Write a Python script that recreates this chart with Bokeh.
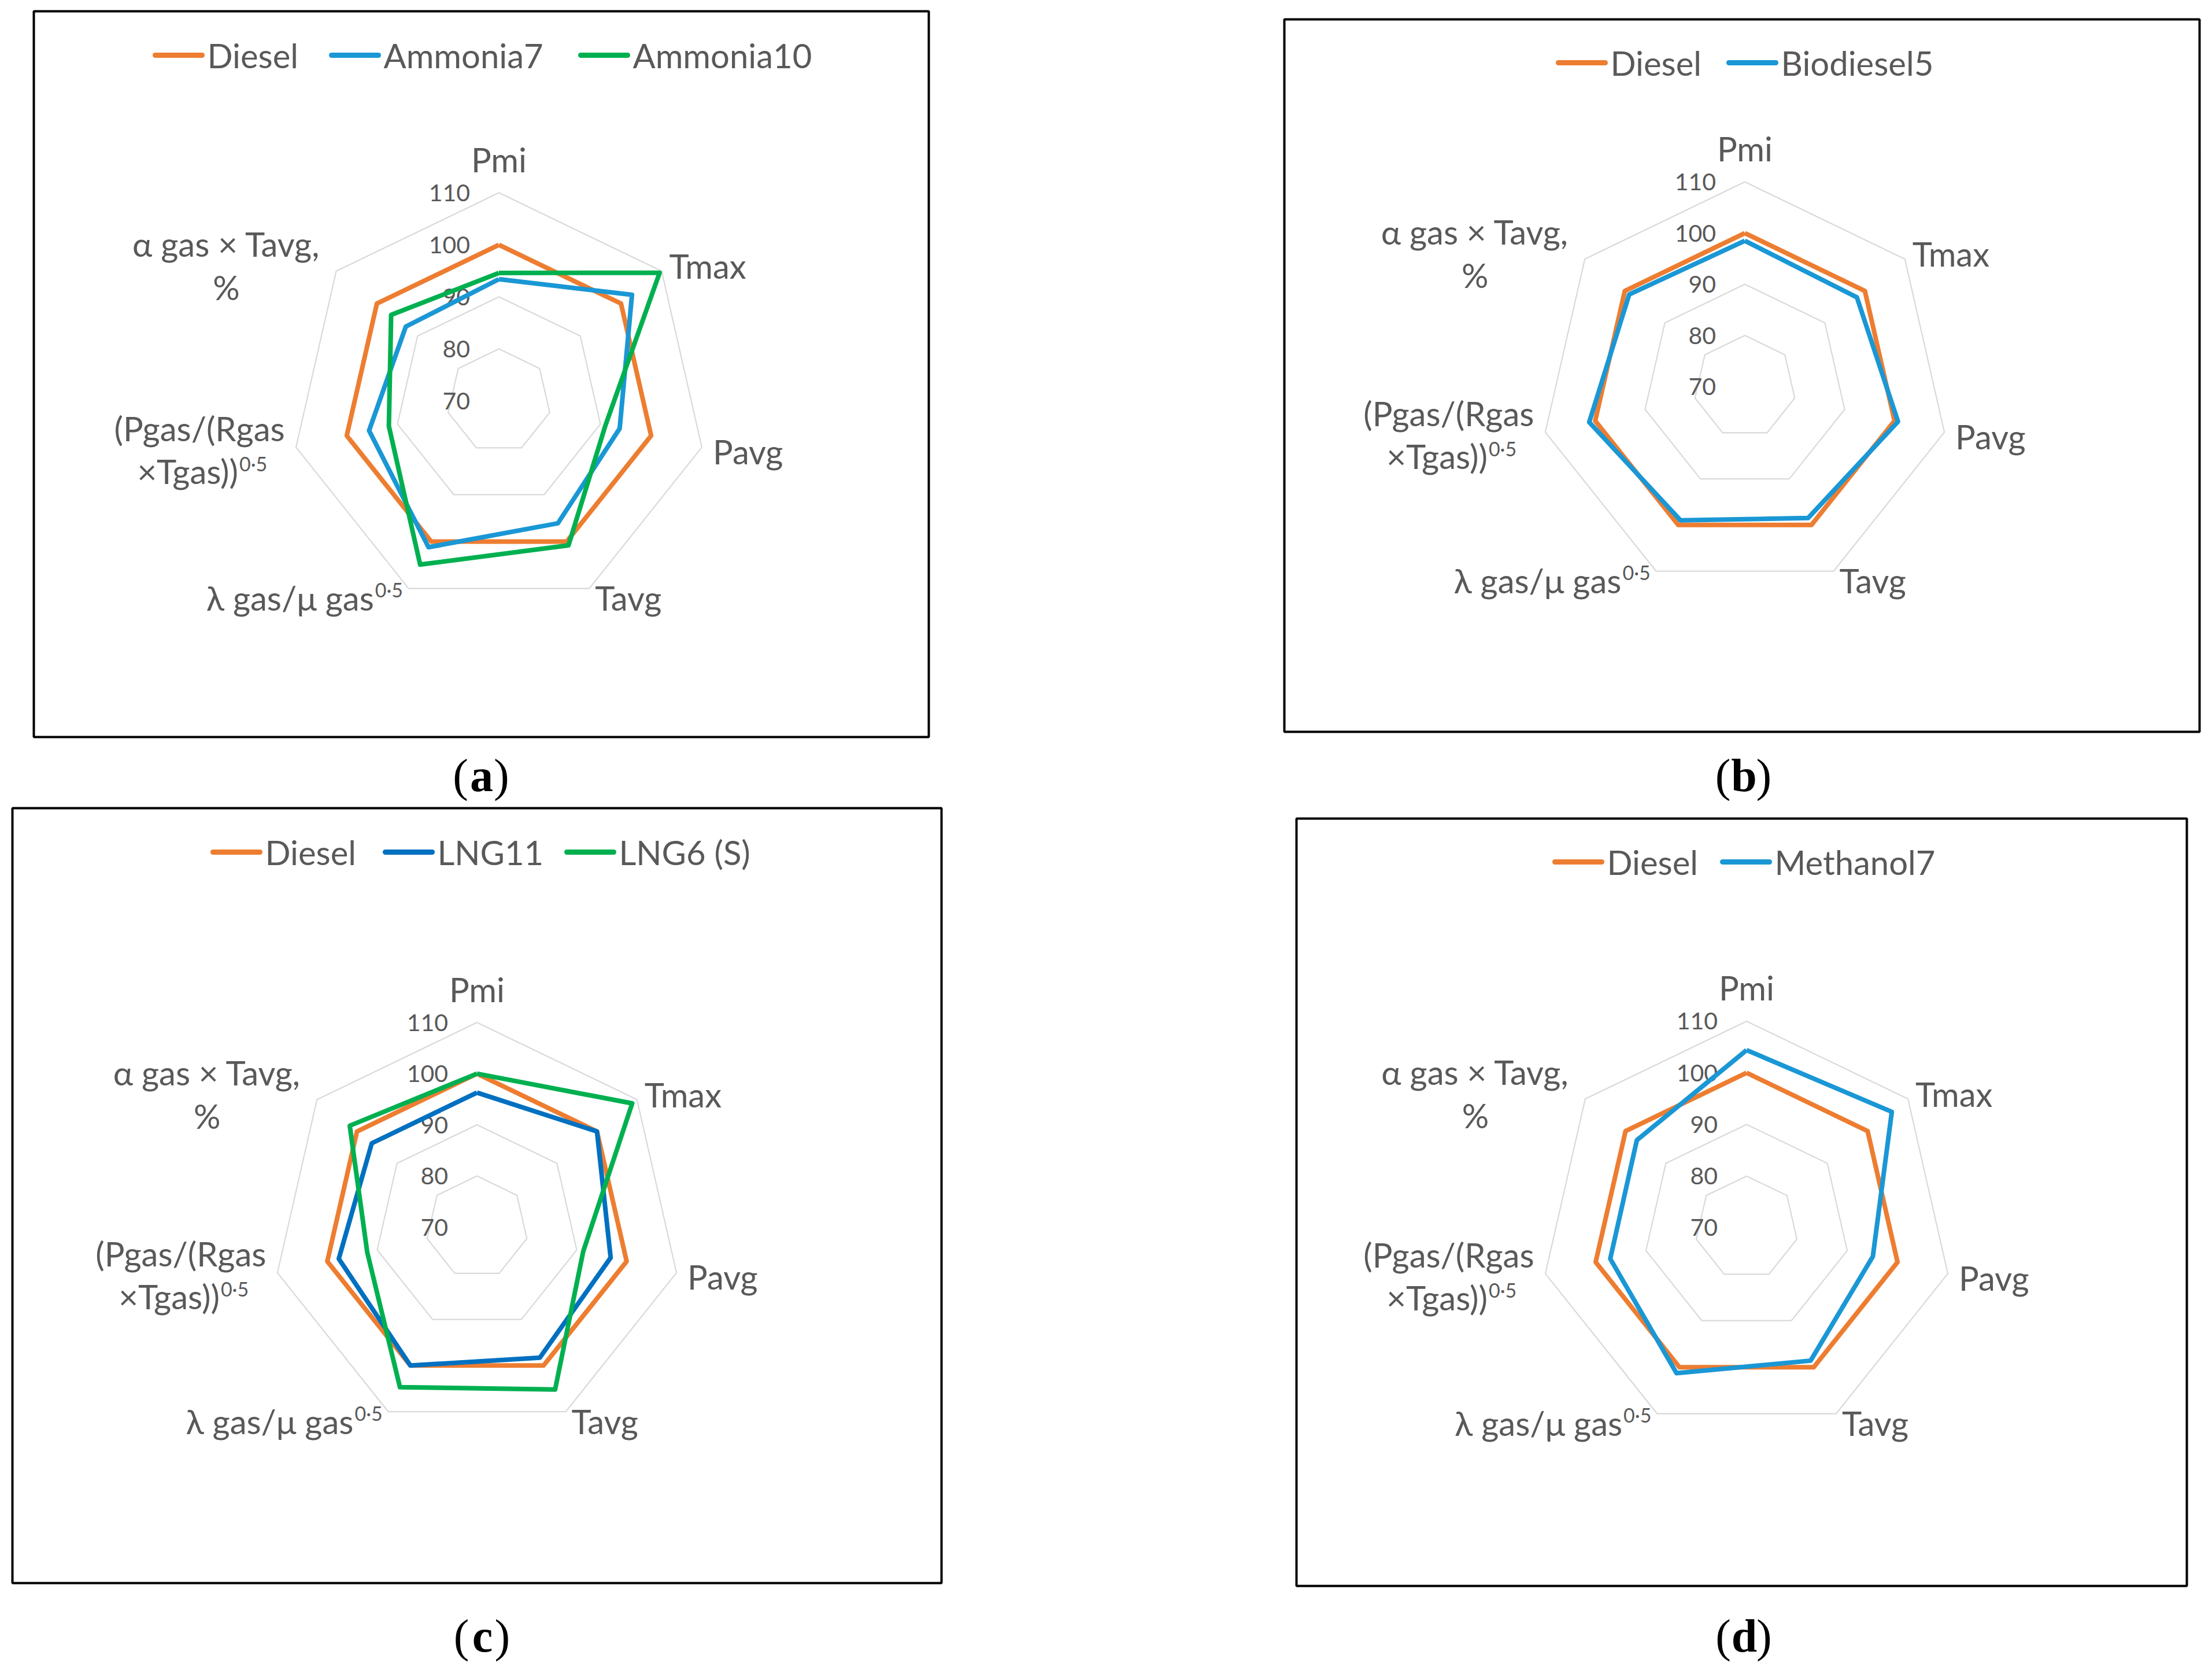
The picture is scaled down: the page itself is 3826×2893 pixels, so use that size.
import math
from bokeh.plotting import figure
from bokeh.models import Range1d
from bokeh.embed import file_html
from bokeh.resources import INLINE
from bokeh.core.properties import value

# ---------------- data ----------------
categories = ["Pmi", "Tmax", "Pavg", "Tavg", "λ gas/μ gas⁰·⁵",
              "(Pgas/(Rgas ×Tgas))⁰·⁵", "α gas × Tavg, %"]
tick_values = [70, 80, 90, 100, 110]
tick_labels = ["70", "80", "90", "100", "110"]

diesel = [100, 100, 100, 100, 100, 100, 100]
ammonia7 = [93.4, 102.7, 93.8, 96.1, 101.2, 95.6, 92.9]
ammonia10 = [94.6, 109.5, 91.0, 100.8, 104.9, 91.7, 96.5]
biodiesel5 = [98.5, 98.0, 100.7, 98.5, 99.0, 101.2, 98.9]
lng11 = [96.3, 100.0, 96.8, 98.3, 100.0, 97.7, 96.3]
lng6_s = [100.0, 108.8, 91.3, 105.2, 104.7, 92.0, 101.8]
methanol7 = [104.4, 106.0, 95.1, 98.6, 101.3, 97.1, 97.2]

# label pieces: (main text, superscript)
cat_lines = [
    [("Pmi", "")],
    [("Tmax", "")],
    [("Pavg", "")],
    [("Tavg", "")],
    [("λ gas/μ gas", "0·5")],
    [("(Pgas/(Rgas", ""), ("×Tgas))", "0·5")],
    [("α gas × Tavg,", ""), ("%", "")],
]

ORANGE = "#ED7D31"
LBLUE = "#1A97D5"
DBLUE = "#0070C0"
GREEN = "#00B050"
GRID = "#D9D9D9"
TXT = "#595959"

panels = [
    dict(series=[("Diesel", diesel, ORANGE), ("Ammonia7", ammonia7, LBLUE), ("Ammonia10", ammonia10, GREEN)],
         cx=862.5, cy=692.8, R=360, box=(58, 19, 1606, 1274), tag="a", tag_x=829.5, tag_y=1340,
         legend_y=95, legend_x=[268, 573, 1004]),
    dict(series=[("Diesel", diesel, ORANGE), ("Biodiesel5", biodiesel5, LBLUE)],
         cx=3017.5, cy=668.1, R=354, box=(2221, 33, 3804, 1265), tag="b", tag_x=3013, tag_y=1340,
         legend_y=108, legend_x=[2695, 2990]),
    dict(series=[("Diesel", diesel, ORANGE), ("LNG11", lng11, DBLUE), ("LNG6 (S)", lng6_s, GREEN)],
         cx=824.5, cy=2121.6, R=354, box=(21, 1397, 1628, 2737), tag="c", tag_x=831, tag_y=2828,
         legend_y=1473, legend_x=[368, 666, 980]),
    dict(series=[("Diesel", diesel, ORANGE), ("Methanol7", methanol7, LBLUE)],
         cx=3020.5, cy=2122.4, R=357, box=(2242, 1415, 3782, 2742), tag="d", tag_x=3013.5, tag_y=2828,
         legend_y=1490, legend_x=[2689, 2979]),
]

# ---------------- figure ----------------
W, H = 3818, 2885
p = figure(width=W, height=H, x_range=Range1d(0, W), y_range=Range1d(H, 0),
           output_backend="svg", toolbar_location=None, min_border=0,
           x_axis_location=None, y_axis_location=None)
p.grid.visible = False
p.outline_line_color = None
p.background_fill_color = "white"
p.border_fill_color = "white"

FONT = "Lato"
CAT_SIZE = 58
SUP_SIZE = 34
SUPW = 50
TICK_SIZE = 41
LEG_SIZE = 58
TAG_SIZE = 80

n = len(categories)
vmin, vmax = tick_values[0], tick_values[-1]


def emit(texts):
    for (size, align, font, style, color), d in texts.items():
        p.text(x=d["x"], y=d["y"], text=d["t"], text_font=value(font),
               text_font_size=f"{size}px", text_align=align, text_baseline="middle",
               text_color=color, text_font_style=style)


def add(texts, x, y, s, size, align="left", font=FONT, style="normal", color=TXT):
    key = (size, align, font, style, color)
    d = texts.setdefault(key, dict(x=[], y=[], t=[]))
    d["x"].append(x)
    d["y"].append(y)
    d["t"].append(s)


# boxes
p.quad(left=[pn["box"][0] for pn in panels], right=[pn["box"][2] for pn in panels],
       top=[pn["box"][1] for pn in panels], bottom=[pn["box"][3] for pn in panels],
       fill_color=None, line_color="black", line_width=4)

tick_texts = {}
top_texts = {}

for pn in panels:
    cx, cy, R = pn["cx"], pn["cy"], pn["R"]
    ang = [2 * math.pi * k / n for k in range(n)]

    def pt(v, a):
        r = (v - vmin) / (vmax - vmin) * R
        return cx + r * math.sin(a), cy - r * math.cos(a)

    # grid rings
    for tv in tick_values[1:]:
        xs, ys = zip(*[pt(tv, a) for a in ang + [ang[0]]])
        p.line(list(xs), list(ys), line_color=GRID, line_width=2.2)
    # tick labels
    for tv, tl in zip(tick_values, tick_labels):
        r = (tv - vmin) / (vmax - vmin) * R
        add(tick_texts, cx - 50, cy - r, tl, TICK_SIZE, align="right")

    # category labels (y = vertical centre of the text)
    for k, lines in enumerate(cat_lines):
        vx, vy = pt(vmax, ang[k])
        if k == 0:
            add(top_texts, vx, vy - 58, lines[0][0], CAT_SIZE, align="center")
        elif k == 1:
            add(top_texts, vx + 13, vy - 9, lines[0][0], CAT_SIZE)
        elif k == 2:
            add(top_texts, vx + 19, vy + 7, lines[0][0], CAT_SIZE)
        elif k == 3:
            add(top_texts, vx + 10, vy + 16, lines[0][0], CAT_SIZE)
        elif k == 4:
            xr = vx - 8 - SUPW
            add(top_texts, xr - 2, vy + 16, lines[0][0], CAT_SIZE, align="right")
            add(top_texts, xr, vy + 2, lines[0][1], SUP_SIZE)
        elif k == 5:
            bx = vx - 167
            add(top_texts, bx, vy - 33, lines[0][0], CAT_SIZE, align="center")
            xr = bx + 119 - SUPW
            add(top_texts, xr - 2, vy + 41, lines[1][0], CAT_SIZE, align="right")
            add(top_texts, xr, vy + 28, lines[1][1], SUP_SIZE)
        elif k == 6:
            bx = vx - 190
            add(top_texts, bx, vy - 47, lines[0][0], CAT_SIZE, align="center")
            add(top_texts, bx, vy + 28, lines[1][0], CAT_SIZE, align="center")

    # legend
    for (name, vals, col), lx in zip(pn["series"], pn["legend_x"]):
        p.line([lx, lx + 81], [pn["legend_y"], pn["legend_y"]], line_color=col, line_width=9,
               line_cap="round")
        add(top_texts, lx + 90, pn["legend_y"], name, LEG_SIZE)

    # panel tag
    tx, ty = pn["tag_x"], pn["tag_y"]
    add(top_texts, tx - 20, ty, "(", TAG_SIZE, align="right", font="Liberation Serif", color="black")
    add(top_texts, tx + 3, ty, pn["tag"], TAG_SIZE, align="center", font="Liberation Serif",
        style="bold", color="black")
    add(top_texts, tx + 24, ty, ")", TAG_SIZE, align="left", font="Liberation Serif", color="black")

emit(tick_texts)

# series polygons
for pn in panels:
    cx, cy, R = pn["cx"], pn["cy"], pn["R"]
    ang = [2 * math.pi * k / n for k in range(n)]
    for name, vals, col in pn["series"]:
        rs = [(v - vmin) / (vmax - vmin) * R for v in vals]
        xs = [cx + r * math.sin(a) for r, a in zip(rs, ang)]
        ys = [cy - r * math.cos(a) for r, a in zip(rs, ang)]
        p.line(xs + xs[:1], ys + ys[:1], line_color=col, line_width=8, line_join="round")

emit(top_texts)

open("out.html", "w").write(file_html(p, INLINE))
